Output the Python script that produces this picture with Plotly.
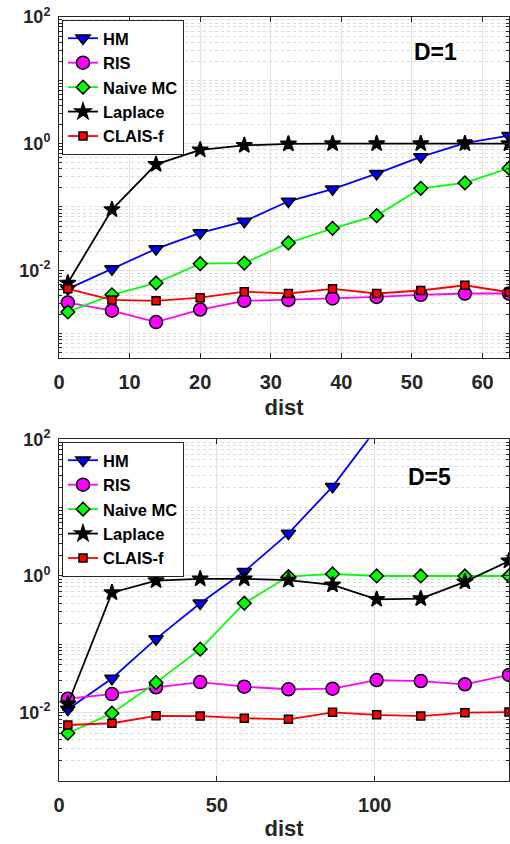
import plotly.graph_objects as go
from plotly.subplots import make_subplots

# ---------------- data ----------------
series_names = ["HM", "RIS", "Naive MC", "Laplace", "CLAIS-f"]

dist_D1 = [1.25, 7.5, 13.75, 20, 26.25, 32.5, 38.75, 45, 51.25, 57.5, 63.75]
hm_D1 = [0.0051, 0.0105, 0.0218, 0.039, 0.059, 0.123, 0.192, 0.336, 0.62, 1.02, 1.34]
ris_D1 = [0.0031, 0.0023, 0.00152, 0.0024, 0.0033, 0.0034, 0.0036, 0.0038, 0.0041, 0.0043, 0.0043]
naive_D1 = [0.0022, 0.0041, 0.0063, 0.0127, 0.013, 0.027, 0.046, 0.073, 0.197, 0.24, 0.41]
laplace_D1 = [0.0063, 0.091, 0.47, 0.80, 0.94, 0.99, 1.0, 1.0, 1.0, 1.0, 1.0]
clais_D1 = [0.0051, 0.0034, 0.0033, 0.0037, 0.0046, 0.0043, 0.0051, 0.0043, 0.0048, 0.0058, 0.0045]

dist_D5 = [2.80, 16.77, 30.74, 44.72, 58.69, 72.67, 86.64, 100.62, 114.59, 128.57, 142.54]
hm_D5 = [0.0112, 0.0317, 0.12, 0.40, 1.16, 4.2, 20.3, 145, 1300, 12000, 150000]
ris_D5 = [0.016, 0.0187, 0.0235, 0.028, 0.024, 0.022, 0.0224, 0.030, 0.029, 0.026, 0.0357]
naive_D5 = [0.0050, 0.0098, 0.0275, 0.085, 0.40, 0.98, 1.07, 1.0, 1.0, 1.0, 1.0]
laplace_D5 = [0.0134, 0.57, 0.855, 0.91, 0.91, 0.87, 0.74, 0.456, 0.466, 0.82, 1.66]
clais_D5 = [0.0066, 0.0070, 0.0090, 0.0089, 0.0083, 0.0080, 0.0101, 0.0093, 0.0089, 0.0100, 0.0102]

y_tick_vals = [1e-2, 1e0, 1e2]
y_tick_text = ["10<sup>-2</sup>", "10<sup>0</sup>", "10<sup>2</sup>"]
x_ticks_D1 = [0, 10, 20, 30, 40, 50, 60]
x_ticks_D5 = [0, 50, 100]

# ---------------- styles ----------------
colors = ["#0000ff", "#ff00ff", "#00ff00", "#000000", "#ff0000"]
symbols = ["triangle-down", "circle", "diamond", "star", "square"]
msizes = [12.5, 13, 10.5, 12, 8]
FONT = "Liberation Sans, Arial, Helvetica, sans-serif"
AX = "#262626"

fig = make_subplots(rows=2, cols=1, vertical_spacing=0.106)

def add_panel(row, x, ys, legend_name):
    for i, (name, y) in enumerate(zip(series_names, ys)):
        fig.add_trace(
            go.Scatter(
                x=x, y=y, name=name, mode="lines+markers",
                line=dict(color=colors[i], width=1.8),
                marker=dict(symbol=symbols[i], size=msizes[i], color=colors[i],
                            line=dict(color="#000000", width=1.5)),
                legend=legend_name,
            ),
            row=row, col=1,
        )

add_panel(1, dist_D1, [hm_D1, ris_D1, naive_D1, laplace_D1, clais_D1], "legend")
add_panel(2, dist_D5, [hm_D5, ris_D5, naive_D5, laplace_D5, clais_D5], "legend2")

H_TOP = 17
H_BOT = 63
plot_h = 844 - H_TOP - H_BOT

top_dom = [(781 - 358) / plot_h, 1.0]
bot_dom = [0.0, (781 - 439.3) / plot_h]

common_x = dict(
    automargin=False,
    showline=True, linecolor=AX, linewidth=1, mirror="allticks",
    ticks="inside", ticklen=5, tickcolor=AX,
    showgrid=True, gridcolor="#e3e3e3", gridwidth=1,
    zeroline=False,
    tickfont=dict(family=FONT, size=20, color=AX, weight="bold"),
    ticklabelstandoff=6,
)
common_y = dict(
    automargin=False,
    type="log",
    showline=True, linecolor=AX, linewidth=1, mirror="allticks",
    ticks="inside", ticklen=5, tickcolor=AX,
    showgrid=True, gridcolor="#e3e3e3", gridwidth=1,
    zeroline=False,
    tickvals=y_tick_vals, ticktext=y_tick_text,
    tickfont=dict(family=FONT, size=18, color=AX, weight="bold"),
    ticklabelstandoff=4,
    minor=dict(dtick="D1", ticks="inside", ticklen=3, tickcolor=AX,
               showgrid=True, gridcolor="#dcdcdc", griddash="dot", gridwidth=1),
)

fig.update_xaxes(common_x)
fig.update_yaxes(common_y)

fig.update_xaxes(range=[0, 63.75], tickvals=x_ticks_D1, domain=[0, 1],
                 title=dict(text="dist", font=dict(family=FONT, size=22, color=AX, weight="bold"), standoff=7),
                 row=1, col=1)
fig.update_xaxes(range=[0, 142.54], tickvals=x_ticks_D5, domain=[0, 1],
                 title=dict(text="dist", font=dict(family=FONT, size=22, color=AX, weight="bold"), standoff=5),
                 row=2, col=1)
fig.update_yaxes(range=[-3.385, 2], domain=top_dom, row=1, col=1)
fig.update_yaxes(range=[-3, 2], domain=bot_dom, row=2, col=1)

legend_style = dict(
    xanchor="left", yanchor="top",
    bgcolor="#ffffff", bordercolor=AX, borderwidth=1,
    font=dict(family=FONT, size=16.5, color="#000000", weight="bold"),
    itemwidth=30, tracegroupgap=0,
)

fig.update_layout(
    width=510, height=844,
    margin=dict(l=59, r=1, t=H_TOP, b=H_BOT, autoexpand=False),
    paper_bgcolor="#ffffff", plot_bgcolor="#ffffff",
    showlegend=True,
    legend=dict(legend_style, x=(62 - 59) / 450, y=(781 - 20) / plot_h),
    legend2=dict(legend_style, x=(62 - 59) / 450, y=(781 - 442) / plot_h),
    annotations=[
        dict(text="D=1", xref="x domain", yref="y domain", x=0.836, y=0.897,
             xanchor="center", yanchor="middle",
             showarrow=False, font=dict(family=FONT, size=23, color="#000000", weight="bold")),
        dict(text="D=5", xref="x2 domain", yref="y2 domain", x=0.824, y=0.89,
             xanchor="center", yanchor="middle",
             showarrow=False, font=dict(family=FONT, size=23, color="#000000", weight="bold")),
    ],
)

fig.write_html("out.html",
               config={"displayModeBar": False},
               post_script="document.body.style.margin='0px';document.body.style.padding='0px';")
